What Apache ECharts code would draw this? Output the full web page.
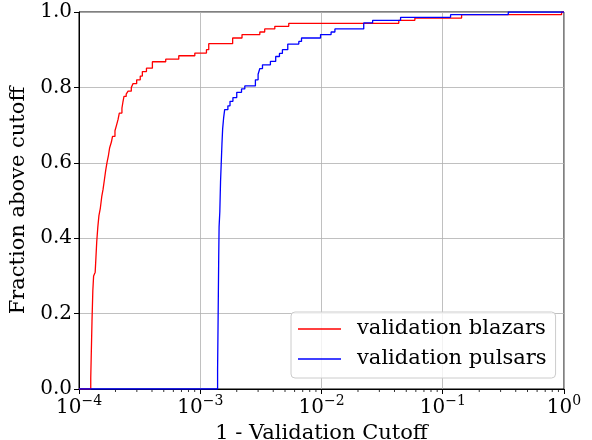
<!DOCTYPE html>
<html>
<head>
<meta charset="utf-8">
<script src="https://cdn.jsdelivr.net/npm/echarts@6/dist/echarts.min.js"></script>
<style>html,body{margin:0;padding:0;background:#fff}#c{width:592px;height:440px}</style>
</head>
<body>
<div id="c"></div>
<script>
// Series names
const seriesNames = ['validation blazars', 'validation pulsars'];
// Red (blazars): cutoff where level changes, and new fraction above cutoff
const blazarX = [1e-4, 1.25e-4, 1.26e-4, 1.27e-4, 1.28e-4, 1.29e-4, 1.30e-4, 1.32e-4, 1.36e-4, 1.38e-4, 1.40e-4, 1.43e-4, 1.46e-4, 1.50e-4, 1.54e-4, 1.58e-4, 1.62e-4, 1.66e-4, 1.70e-4, 1.75e-4, 1.79e-4, 1.85e-4, 1.89e-4, 1.98e-4, 2.04e-4, 2.10e-4, 2.15e-4, 2.26e-4, 2.30e-4, 2.35e-4, 2.45e-4, 2.54e-4, 2.70e-4, 2.79e-4, 2.99e-4, 3.20e-4, 3.33e-4, 3.60e-4, 4.03e-4, 5.19e-4, 6.65e-4, 9.02e-4, 1.125e-3, 1.175e-3, 1.85e-3, 2.21e-3, 3.10e-3, 3.40e-3, 4.12e-3, 5.37e-3, 4.34e-2, 5.89e-2, 0.143, 0.955, 1.0];
const blazarY = [0, 0.03, 0.08, 0.13, 0.18, 0.22, 0.26, 0.30, 0.31, 0.35, 0.39, 0.43, 0.46, 0.48, 0.51, 0.53, 0.555, 0.58, 0.60, 0.62, 0.64, 0.655, 0.67, 0.685, 0.70, 0.715, 0.732, 0.745, 0.76, 0.776, 0.782, 0.79, 0.80, 0.81, 0.82, 0.83, 0.842, 0.851, 0.868, 0.875, 0.884, 0.891, 0.90, 0.916, 0.931, 0.94, 0.947, 0.955, 0.962, 0.970, 0.978, 0.984, 0.993, 1.0, 1.0];
// Blue (pulsars)
const pulsarX = [1e-4, 1.39e-3, 1.40e-3, 1.41e-3, 1.42e-3, 1.43e-3, 1.45e-3, 1.47e-3, 1.49e-3, 1.51e-3, 1.53e-3, 1.56e-3, 1.59e-3, 1.69e-3, 1.76e-3, 1.86e-3, 2.0e-3, 2.19e-3, 2.33e-3, 2.85e-3, 3.0e-3, 3.1e-3, 3.26e-3, 3.79e-3, 4.19e-3, 4.5e-3, 4.76e-3, 5.27e-3, 6.5e-3, 6.84e-3, 9.82e-3, 1.2e-2, 1.29e-2, 2.23e-2, 2.64e-2, 4.49e-2, 0.116, 0.347, 1.0];
const pulsarY = [0, 0.05, 0.15, 0.25, 0.35, 0.43, 0.47, 0.55, 0.60, 0.65, 0.69, 0.72, 0.741, 0.751, 0.763, 0.773, 0.787, 0.796, 0.804, 0.82, 0.835, 0.85, 0.86, 0.869, 0.882, 0.89, 0.90, 0.915, 0.922, 0.931, 0.94, 0.947, 0.955, 0.971, 0.978, 0.986, 0.993, 1.0, 1.0];
// Tick labels
const yTicks = [0, 0.2, 0.4, 0.6, 0.8, 1.0];
const xExponents = ['−4', '−3', '−2', '−1', '0'];

const zip = (xs, ys) => xs.map((x, i) => [x, ys[i]]);
const font = 'DejaVu Serif';
const chart = echarts.init(document.getElementById('c'), null, {renderer: 'canvas'});
const option = {
  animation: false,
  backgroundColor: '#fff',
  grid: {left: 79, right: 28, top: 12, bottom: 51, outerBoundsMode: 'none', containLabel: false,
         show: true, borderColor: '#000', borderWidth: 1, backgroundColor: 'transparent'},
  legend: {
    orient: 'vertical', left: 291, top: 312,
    padding: [5, 9, 7, 7], itemGap: 6, itemWidth: 43, itemHeight: 1.5,
    icon: 'rect', borderColor: '#cccccc', borderWidth: 1, borderRadius: 4,
    backgroundColor: 'rgba(255,255,255,0.8)',
    textStyle: {fontFamily: font, fontSize: 21, color: '#000', lineHeight: 24, padding: [0, 0, 0, 11]},
    data: seriesNames
  },
  xAxis: {
    type: 'log', logBase: 10, min: 1e-4, max: 1,
    name: '1 - Validation Cutoff', nameLocation: 'middle', nameGap: 25,
    nameTextStyle: {fontFamily: font, fontSize: 21, color: '#000'},
    axisLine: {show: true, lineStyle: {color: '#000', width: 1}},
    axisTick: {show: true, length: 5, inside: false, lineStyle: {color: '#000'}},
    splitLine: {show: true, lineStyle: {color: '#b0b0b0', width: 0.8}},
    axisLabel: {
      margin: 5, color: '#000',
      formatter: function (v) {
        const e = Math.round(Math.log10(v));
        const s = xExponents[e + 4];
        return '{b|10}{s|' + s + '}';
      },
      rich: {
        b: {fontFamily: font, fontSize: 20, color: '#000', lineHeight: 24, verticalAlign: 'bottom'},
        s: {fontFamily: font, fontSize: 14, color: '#000', lineHeight: 24, verticalAlign: 'top', padding: [0, 0, 9, 0]}
      }
    }
  },
  yAxis: {
    type: 'value', min: 0, max: 1, interval: 0.2,
    name: 'Fraction above cutoff', nameLocation: 'middle', nameGap: 44,
    nameTextStyle: {fontFamily: font, fontSize: 21, color: '#000'},
    axisLine: {show: true, lineStyle: {color: '#000', width: 1}},
    axisTick: {show: true, length: 5, inside: false, lineStyle: {color: '#000'}},
    splitLine: {show: true, lineStyle: {color: '#b0b0b0', width: 0.8}},
    axisLabel: {margin: 7, fontFamily: font, fontSize: 20, color: '#000', formatter: v => v.toFixed(1)}
  },
  series: [
    {name: seriesNames[0], type: 'line', step: 'end', showSymbol: false, data: zip(blazarX, blazarY),
     lineStyle: {color: '#ff0000', width: 1.3}, itemStyle: {color: '#ff0000'}},
    {name: seriesNames[1], type: 'line', step: 'end', showSymbol: false, data: zip(pulsarX, pulsarY),
     lineStyle: {color: '#0000ff', width: 1.3}, itemStyle: {color: '#0000ff'}}
  ]
};
chart.setOption(option);
// minor log ticks (2..9 x 10^k) placed with the axis scale
const minor = [];
const y0 = chart.convertToPixel({yAxisIndex: 0}, 0);
for (let k = -4; k < 0; k++) {
  for (let m = 2; m <= 9; m++) {
    const px = chart.convertToPixel({xAxisIndex: 0}, m * Math.pow(10, k));
    minor.push({type: 'line', shape: {x1: px, y1: y0, x2: px, y2: y0 + 3}, style: {stroke: '#000', lineWidth: 0.8}, silent: true});
  }
}
chart.setOption({graphic: minor});
</script>
</body>
</html>
